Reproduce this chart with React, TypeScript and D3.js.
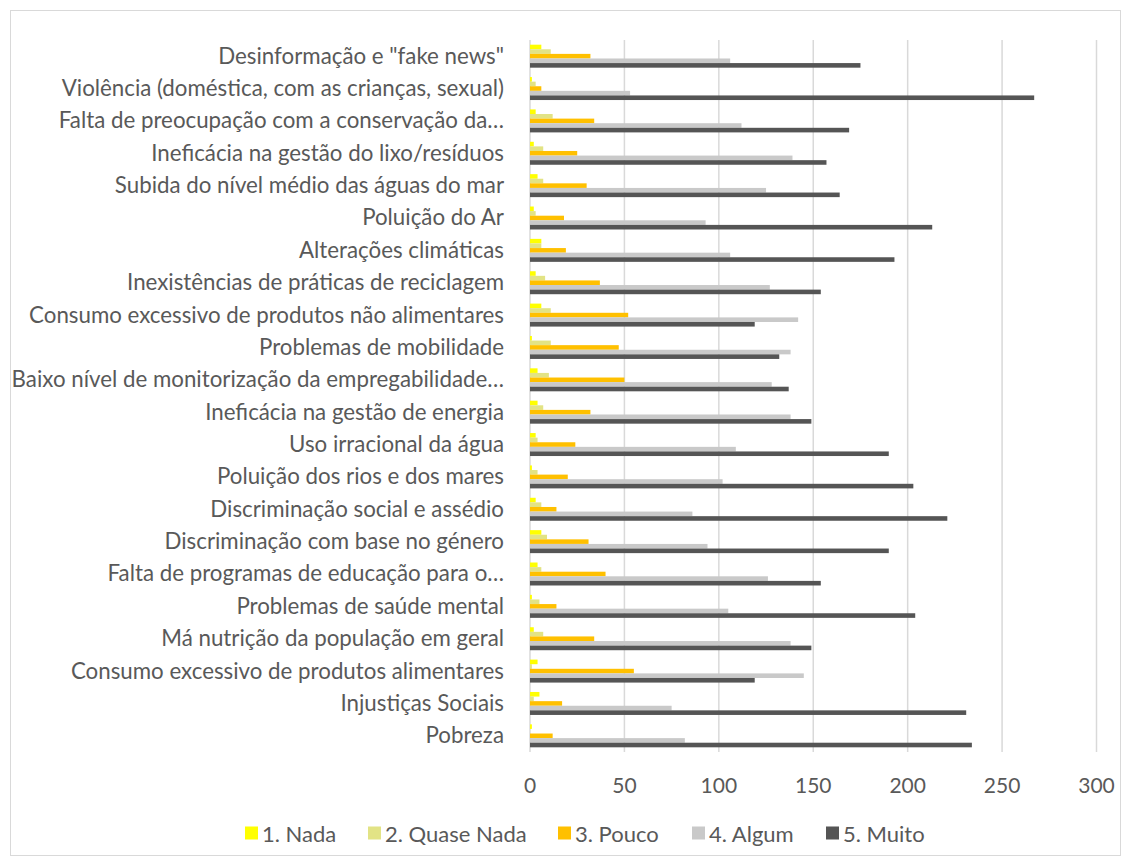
import React from "react";
import * as d3 from "d3";

const categories = [
  "Desinformação e \"fake news\"",
  "Violência (doméstica, com as crianças, sexual)",
  "Falta de preocupação com a conservação da…",
  "Ineficácia na gestão do lixo/resíduos",
  "Subida do nível médio das águas do mar",
  "Poluição do Ar",
  "Alterações climáticas",
  "Inexistências de práticas de reciclagem",
  "Consumo excessivo de produtos não alimentares",
  "Problemas de mobilidade",
  "Baixo nível de monitorização da empregabilidade…",
  "Ineficácia na gestão de energia",
  "Uso irracional da água",
  "Poluição dos rios e dos mares",
  "Discriminação social e assédio",
  "Discriminação com base no género",
  "Falta de programas de educação para o…",
  "Problemas de saúde mental",
  "Má nutrição da população em geral",
  "Consumo excessivo de produtos alimentares",
  "Injustiças Sociais",
  "Pobreza",
];

const seriesNames = ["1. Nada", "2. Quase Nada", "3. Pouco", "4. Algum", "5. Muito"];
const seriesColors = ["#FFFF00", "#E2E385", "#FFC000", "#C9C9C9", "#555555"];

const nada = [6, 1, 3, 2, 4, 2, 6, 3, 6, 1, 4, 4, 3, 1, 3, 6, 4, 1, 2, 4, 5, 1];
const quaseNada = [11, 3, 12, 7, 7, 3, 6, 8, 11, 11, 10, 7, 4, 4, 6, 9, 6, 5, 7, 1, 2, 0];
const pouco = [32, 6, 34, 25, 30, 18, 19, 37, 52, 47, 50, 32, 24, 20, 14, 31, 40, 14, 34, 55, 17, 12];
const algum = [106, 53, 112, 139, 125, 93, 106, 127, 142, 138, 128, 138, 109, 102, 86, 94, 126, 105, 138, 145, 75, 82];
const muito = [175, 267, 169, 157, 164, 213, 193, 154, 119, 132, 137, 149, 190, 203, 221, 190, 154, 204, 149, 119, 231, 234];

const seriesValues = [nada, quaseNada, pouco, algum, muito];
const xTicks = [0, 50, 100, 150, 200, 250, 300];

const W = 1130;
const H = 865;
const plot = { left: 530, right: 1096.5, top: 40, bottom: 752 };
const textColor = "#595959";
const font = "Lato, 'Open Sans', sans-serif";

export default function App() {
  const x = d3.scaleLinear().domain([0, 300]).range([plot.left, plot.right]);
  const y = d3.scaleBand<string>().domain(categories).range([plot.top, plot.bottom]).padding(0);
  const bw = y.bandwidth();
  const gh = bw * 0.71;
  const inner = d3
    .scaleBand<string>()
    .domain(seriesNames)
    .range([(bw - gh) / 2, (bw + gh) / 2])
    .padding(0);

  const legendX = [245, 368, 558, 692, 826];

  return (
    <svg
      width={W}
      height={H}
      style={{ position: "absolute", left: 0, top: 0, background: "#fff" }}
      fontFamily={font}
    >
      <rect x={10.5} y={10.5} width={1110} height={845} fill="#fff" stroke="#D9D9D9" strokeWidth={1} />
      {xTicks.map((t) => (
        <line
          key={"g" + t}
          x1={x(t)}
          x2={x(t)}
          y1={plot.top}
          y2={plot.bottom}
          stroke="#D9D9D9"
          strokeWidth={1.5}
        />
      ))}
      {categories.map((c, i) => (
        <g key={c} transform={`translate(0,${y(c)})`}>
          {seriesNames.map((s, j) => {
            const v = seriesValues[j][i];
            return (
              <rect
                key={s}
                x={x(0)}
                y={inner(s)!}
                width={Math.max(0, x(v) - x(0))}
                height={inner.bandwidth()}
                fill={seriesColors[j]}
              />
            );
          })}
          <text
            x={504}
            y={bw / 2 - 1}
            textAnchor="end"
            dominantBaseline="central"
            fontSize={22.3}
            fill={textColor}
          >
            {c}
          </text>
        </g>
      ))}
      {xTicks.map((t) => (
        <text
          key={"t" + t}
          x={x(t)}
          y={784}
          textAnchor="middle"
          dominantBaseline="central"
          fontSize={21}
          fill={textColor}
        >
          {t}
        </text>
      ))}
      {seriesNames.map((s, j) => (
        <g key={"l" + s} transform={`translate(${legendX[j]},833)`}>
          <rect x={0} y={-6.5} width={13} height={13} fill={seriesColors[j]} />
          <text x={17} y={0} dominantBaseline="central" fontSize={22} fill={textColor}>
            {s}
          </text>
        </g>
      ))}
    </svg>
  );
}
